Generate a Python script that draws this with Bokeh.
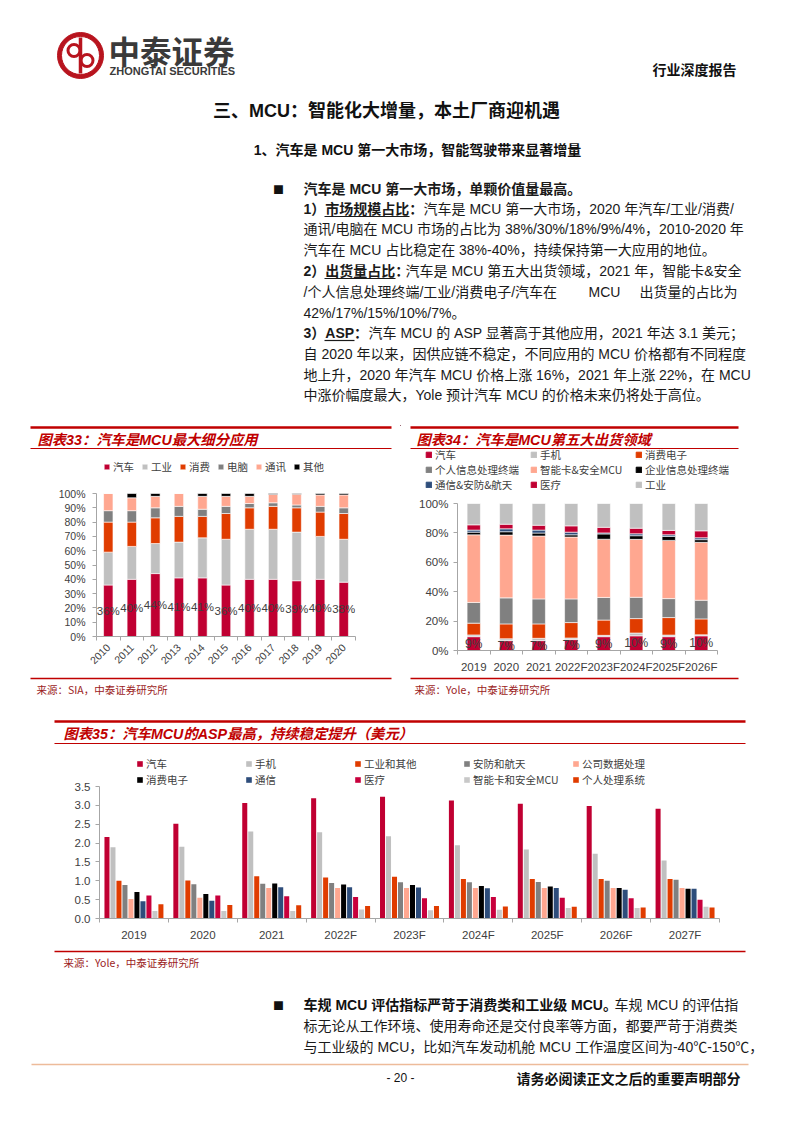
import math
from bokeh.plotting import figure
from bokeh.models import (Range1d, FixedTicker, SingleIntervalTicker, ColumnDataSource,
                          PrintfTickFormatter, NumeralTickFormatter, Legend, LegendItem)
from bokeh.layouts import column, row
from bokeh.core.properties import value
from bokeh.transform import dodge
from bokeh.embed import file_html
from bokeh.resources import INLINE

CJK = "Noto Sans CJK SC"
LAT = "Liberation Sans"
MIX = "Liberation Sans, Noto Sans CJK SC"
RED = "#C00000"
GRAY = "#A6A6A6"
TXT = "#404040"

# ---------------- data: 图表33 ----------------
years33 = ["2010", "2011", "2012", "2013", "2014", "2015", "2016", "2017", "2018", "2019", "2020"]
car33 = [36, 40, 44, 41, 41, 36, 40, 40, 39, 40, 38]
ind33 = [23, 23, 21, 25, 28, 32, 35, 35, 34, 30, 30]
con33 = [21, 17, 18, 18, 15, 18, 15, 16, 17, 17, 18]
pc33 = [8, 8, 7, 7, 5, 5, 3, 2.5, 2, 4, 4]
com33 = [12, 9, 8, 9, 9, 7, 5, 5.8, 7.5, 8, 9]
oth33 = [0, 3, 2, 0, 2, 2, 2, 0.7, 0.5, 1, 1]
names33 = ["汽车", "工业", "消费", "电脑", "通讯", "其他"]

# ---------------- data: 图表34 ----------------
years34 = ["2019", "2020", "2021", "2022F", "2023F", "2024F", "2025F", "2026F"]
car34 = [9.4, 6.7, 6.7, 7.4, 9.4, 10.0, 9.4, 10.0]
phone34 = [1.2, 1.3, 1.6, 1.1, 0.9, 1.9, 1.1, 0.7]
cons34 = [8.0, 10.1, 9.8, 10.5, 10.4, 9.8, 11.9, 10.8]
pc34 = [14.1, 17.7, 17.0, 16.1, 15.4, 14.5, 12.9, 12.7]
card34 = [46.0, 42.7, 42.8, 42.1, 39.6, 39.4, 39.6, 39.4]
ent34 = [1.8, 2.3, 2.0, 1.5, 3.6, 2.5, 2.7, 1.8]
comm34 = [1.4, 2.0, 2.0, 1.8, 0.7, 1.3, 1.1, 1.3]
med34 = [3.6, 3.1, 3.3, 4.3, 3.8, 3.8, 3.0, 4.7]
ind34 = [14.5, 14.1, 14.8, 15.2, 16.2, 16.8, 18.3, 18.6]
names34 = ["汽车", "手机", "消费电子", "个人信息处理终端", "智能卡&安全MCU",
           "企业信息处理终端", "通信&安防&航天", "医疗", "工业"]

# ---------------- data: 图表35 ----------------
years35 = ["2019", "2020", "2021", "2022F", "2023F", "2024F", "2025F", "2026F", "2027F"]
auto35 = [2.16, 2.51, 3.06, 3.19, 3.23, 3.13, 3.04, 2.98, 2.91]
phone35 = [1.89, 1.90, 2.31, 2.29, 2.18, 1.94, 1.83, 1.72, 1.54]
indus35 = [1.00, 1.01, 1.12, 1.09, 1.11, 1.05, 1.05, 1.05, 1.05]
secur35 = [0.89, 0.91, 0.92, 0.94, 0.96, 0.96, 0.97, 1.00, 1.03]
datap35 = [0.52, 0.55, 0.81, 0.81, 0.81, 0.81, 0.81, 0.81, 0.81]
consu35 = [0.70, 0.65, 0.93, 0.90, 0.89, 0.86, 0.85, 0.81, 0.79]
comms35 = [0.46, 0.47, 0.83, 0.83, 0.82, 0.80, 0.81, 0.76, 0.79]
medic35 = [0.61, 0.61, 0.59, 0.57, 0.54, 0.57, 0.55, 0.54, 0.50]
smart35 = [0.20, 0.20, 0.20, 0.24, 0.22, 0.23, 0.28, 0.28, 0.31]
perso35 = [0.38, 0.36, 0.35, 0.33, 0.33, 0.32, 0.31, 0.29, 0.29]
names35 = ["汽车", "手机", "工业和其他", "安防和航天", "公司数据处理",
           "消费电子", "通信", "医疗", "智能卡和安全MCU", "个人处理系统"]

C_CAR = "#C00032"
C_LG = "#C0C0C0"
C_OR = "#E03C00"
C_DG = "#808080"
C_SAL = "#FFA790"
C_BK = "#000000"
C_NV = "#2E4D7B"
cols34 = [C_CAR, C_LG, C_OR, C_DG, C_SAL, C_BK, C_NV, C_CAR, C_LG]
SRC_C = "#9B1C1C"
TITLE_FS = 14.3


# ---------------- helpers ----------------
def unalign(p):
    try:
        p.frame_align = False
    except Exception:
        pass


def canvas(w, h):
    p = figure(width=w, height=h, x_range=Range1d(0, w), y_range=Range1d(h, 0),
               x_axis_location=None, y_axis_location=None, min_border=0,
               title_location=None, toolbar_location=None, output_backend="svg")
    p.grid.visible = False
    p.outline_line_color = None
    unalign(p)
    return p


def put(p, x, y, s, size=14, color="#1a1a1a", bold=False, italic=False,
        align="left", font=MIX):
    style = "normal"
    if bold and italic:
        style = "bold italic"
    elif bold:
        style = "bold"
    elif italic:
        style = "italic"
    p.text(x=[x], y=[y], text=[s], text_font=value(font), text_font_size=f"{size}px",
           text_font_style=style, text_color=color, text_align=align,
           text_baseline="middle")


def hline(p, x0, x1, y, color=RED, w=1.0):
    p.segment(x0=[x0], y0=[y], x1=[x1], y1=[y], line_color=color, line_width=w)


def chart(w, h, n, yr, bl, br, bt, bb):
    p = figure(width=w, height=h, x_range=Range1d(0, n), y_range=Range1d(*yr),
               min_border_left=bl, min_border_right=br, min_border_top=bt,
               min_border_bottom=bb, title_location=None,
               toolbar_location=None, output_backend="svg")
    p.grid.visible = False
    p.outline_line_color = None
    unalign(p)
    return p


def style_axes(p, labels, yticker, yfmt, ybounds, fs, ystand, xstand=6, orient=None):
    n = len(labels)
    xs = [i + 0.5 for i in range(n)]
    ax = p.xaxis[0]
    ax.ticker = FixedTicker(ticks=xs, minor_ticks=list(range(n + 1)))
    ax.major_label_overrides = dict(zip(xs, labels))
    ax.major_tick_out = 0
    ax.major_tick_in = 0
    ax.minor_tick_out = 4
    ax.minor_tick_in = 0
    ax.minor_tick_line_color = GRAY
    ax.axis_line_color = GRAY
    ax.major_label_standoff = xstand
    ax.major_label_text_font = LAT
    ax.major_label_text_font_size = fs
    ax.major_label_text_color = TXT
    if orient is not None:
        ax.major_label_orientation = orient
    ay = p.yaxis[0]
    ay.ticker = yticker
    ay.formatter = yfmt
    ay.bounds = ybounds
    ay.major_tick_out = 4
    ay.major_tick_in = 0
    ay.major_tick_line_color = GRAY
    ay.minor_tick_line_color = None
    ay.axis_line_color = GRAY
    ay.major_label_standoff = ystand
    ay.major_label_text_font = LAT
    ay.major_label_text_font_size = fs
    ay.major_label_text_color = TXT
    return xs


def style_legend(leg, loc, ncols=None, label_w=None, spacing=6, fs="10.5px",
                 glyph=7, lh=12):
    leg.location = loc
    leg.orientation = "horizontal"
    if ncols:
        leg.ncols = ncols
    leg.padding = 0
    leg.margin = 0
    leg.spacing = spacing
    leg.glyph_width = glyph
    leg.glyph_height = glyph
    leg.label_height = lh
    leg.label_standoff = 3
    if label_w:
        leg.label_width = label_w
    leg.label_text_font = CJK
    leg.label_text_font_size = fs
    leg.label_text_color = TXT
    leg.background_fill_alpha = 0
    leg.border_line_color = None


# ================= top of page =================
top = canvas(794, 425)
top.annulus(x=[80], y=[55], inner_radius=19, outer_radius=23, color="#B8141E")
top.segment(x0=[80], y0=[37], x1=[80], y1=[73], line_color="#B8141E", line_width=3.5)
top.circle(x=[73.5], y=[50], radius=6, fill_color=None, line_color="#B8141E", line_width=3)
top.circle(x=[86.5], y=[60], radius=6, fill_color=None, line_color="#B8141E", line_width=3)
put(top, 108, 49, "中泰证券", 31.5, "#3a3a3a", bold=True, font=CJK)
put(top, 109, 70, "ZHONGTAI SECURITIES", 11, "#3a3a3a", bold=True, font=LAT)
put(top, 736, 68, "行业深度报告", 14, "#111111", bold=True, align="right", font=CJK)
put(top, 386, 110, "三、MCU：智能化大增量，本土厂商迎机遇", 18, "#111111", bold=True, align="center")
put(top, 417, 149, "1、汽车是 MCU 第一大市场，智能驾驶带来显著增量", 14, "#111111", bold=True, align="center")

put(top, 278, 188, "■", 11, "#111111", align="center", font=CJK)
# (x, text, bold, align)
body = [
    (188, [(303, "汽车是 MCU 第一大市场，单颗价值量最高。", True, "left")]),
    (208, [(303, "1）市场规模占比：", True, "left"),
           (423, "汽车是 MCU 第一大市场，2020 年汽车/工业/消费/", False, "left")]),
    (228, [(303, "通讯/电脑在 MCU 市场的占比为 38%/30%/18%/9%/4%，2010-2020 年", False, "left")]),
    (249, [(303, "汽车在 MCU 占比稳定在 38%-40%，持续保持第一大应用的地位。", False, "left")]),
    (270, [(303, "2）出货量占比：", True, "left"),
           (405, "汽车是 MCU 第五大出货领域，2021 年，智能卡&安全", False, "left")]),
    (291, [(303, "/个人信息处理终端/工业/消费电子/汽车在", False, "left"),
           (588, "MCU", False, "left"),
           (737, "出货量的占比为", False, "right")]),
    (312, [(303, "42%/17%/15%/10%/7%。", False, "left")]),
    (332, [(303, "3）ASP：", True, "left"),
           (368, "汽车 MCU 的 ASP 显著高于其他应用，2021 年达 3.1 美元；", False, "left")]),
    (353, [(303, "自 2020 年以来，因供应链不稳定，不同应用的 MCU 价格都有不同程度", False, "left")]),
    (374, [(303, "地上升，2020 年汽车 MCU 价格上涨 16%，2021 年上涨 22%，在 MCU", False, "left")]),
    (394, [(303, "中涨价幅度最大，Yole 预计汽车 MCU 的价格未来仍将处于高位。", False, "left")]),
]
for y, segs in body:
    for x, s, b, al in segs:
        put(top, x, y, s, 14, "#1a1a1a", bold=b, align=al)
for x0, x1, y in [(324, 409, 216), (324, 395, 278), (324, 354, 340)]:
    hline(top, x0, x1, y, "#1a1a1a", 1.2)

# ================= 图表33 =================
h33 = canvas(400, 27)
hline(h33, 30, 391, 2, RED, 2.5)
put(h33, 37, 14, "图表33：汽车是MCU最大细分应用", TITLE_FS, RED, bold=True, italic=True)
hline(h33, 30, 391, 23, RED, 1.2)

# frame extends up to the figure top so the legend sits inside it
c33 = chart(400, 223, len(years33), (0, 100 * 184 / 143), 96, 45, 0, 39)
xs33 = style_axes(c33, years33, SingleIntervalTicker(interval=10, num_minor_ticks=0),
                  PrintfTickFormatter(format="%d%%"), (0, 100), "10.5px", 7, 5, math.pi / 4)
src33 = ColumnDataSource(dict(x=xs33, car=car33, ind=ind33, con=con33, pc=pc33,
                              com=com33, oth=oth33,
                              ly=[v / 2 for v in car33], lbl=[f"{v}%" for v in car33]))
c33.vbar_stack(["car", "ind", "con", "pc", "com", "oth"], x="x", width=0.4,
               color=[C_CAR, C_LG, C_OR, C_DG, C_SAL, C_BK], line_color="white",
               line_width=0.6, source=src33, legend_label=names33)
c33.text(x="x", y="ly", text="lbl", source=src33, text_align="center",
         text_baseline="middle", text_font=value(LAT), text_font_size="11.5px",
         text_color=TXT)
style_legend(c33.legend[0], (7, 162), spacing=7, label_w=21)

f33 = canvas(400, 30)
hline(f33, 30, 391, 3, RED, 1.5)
put(f33, 36, 14, "来源：SIA，中泰证券研究所", 10.5, SRC_C, font=CJK)

# ================= 图表34 =================
# header (title bar + legend); legend keys are zero-height stand-ins in the series colours
h34 = canvas(394, 67)
hline(h34, 10, 338, 2, RED, 2.5)
put(h34, 16, 14, "图表34：汽车是MCU第五大出货领域", TITLE_FS, RED, bold=True, italic=True)
hline(h34, 10, 338, 23, RED, 1.2)
keys34 = [h34.vbar(x=[-50], top=[0], bottom=[0], width=1, color=c) for c in cols34]
leg34 = Legend(items=[LegendItem(label=nm, renderers=[r]) for nm, r in zip(names34, keys34)])
style_legend(leg34, (25, 0), ncols=3, label_w=95, spacing=0)
h34.add_layout(leg34)

c34 = chart(394, 183, len(years34), (0, 100), 57, 77, 11, 24)
xs34 = style_axes(c34, years34, SingleIntervalTicker(interval=20, num_minor_ticks=0),
                  PrintfTickFormatter(format="%d%%"), (0, 100), "11.5px", 5, 6)
src34 = ColumnDataSource(dict(x=xs34, car=car34, phone=phone34, cons=cons34, pc=pc34,
                              card=card34, ent=ent34, comm=comm34, med=med34, ind=ind34,
                              ly=[v / 2 for v in car34],
                              lbl=[f"{round(v)}%" for v in car34]))
c34.vbar_stack(["car", "phone", "cons", "pc", "card", "ent", "comm", "med", "ind"],
               x="x", width=0.41, color=cols34,
               line_color="white", line_width=0.6, source=src34)
c34.text(x="x", y="ly", text="lbl", source=src34, text_align="center",
         text_baseline="middle", text_font=value(LAT), text_font_size="12px",
         text_color=TXT)

f34 = canvas(394, 30)
hline(f34, 10, 338, 3, RED, 1.5)
put(f34, 14, 14, "来源：Yole，中泰证券研究所", 10.5, SRC_C, font=CJK)

# ================= 图表35 =================
h35 = canvas(794, 45)
hline(h35, 54, 745, 16, RED, 2.5)
put(h35, 63, 28, "图表35：汽车MCU的ASP最高，持续稳定提升（美元）", TITLE_FS, RED, bold=True, italic=True)
hline(h35, 54, 745, 38, RED, 1.2)

c35 = chart(794, 195, len(years35), (0, 3.5 * 168 / 132), 99, 75, 0, 27)
xs35 = style_axes(c35, years35, SingleIntervalTicker(interval=0.5, num_minor_ticks=0),
                  NumeralTickFormatter(format="0.0"), (0, 3.5), "11.5px", 5, 6)
keys35 = ["auto", "phone", "indus", "secur", "datap", "consu", "comms", "medic", "smart", "perso"]
vals35 = [auto35, phone35, indus35, secur35, datap35, consu35, comms35, medic35, smart35, perso35]
cols35 = [C_CAR, C_LG, C_OR, C_DG, C_SAL, C_BK, C_NV, "#C8003C", "#C8C8C8", C_OR]
src35 = ColumnDataSource(dict(x=xs35, **dict(zip(keys35, vals35))))
for i, (k, nm, c) in enumerate(zip(keys35, names35, cols35)):
    c35.vbar(x=dodge("x", (i - 4.5) * 0.087), top=k, width=0.073, source=src35,
             color=c, line_color=None, legend_label=nm)
style_legend(c35.legend[0], (37, 131), ncols=5, label_w=99, spacing=0, lh=16)

f35 = canvas(794, 30)
hline(f35, 54, 745, 6, RED, 1.5)
put(f35, 63, 17, "来源：Yole，中泰证券研究所", 10.5, SRC_C, font=CJK)

# ================= bottom of page =================
bot = canvas(794, 148)
put(bot, 278, 29, "■", 11, "#111111", align="center", font=CJK)
put(bot, 303, 29, "车规 MCU 评估指标严苛于消费类和工业级 MCU。", 14, "#111111", bold=True)
put(bot, 614, 29, "车规 MCU 的评估指", 14, "#1a1a1a")
put(bot, 303, 50, "标无论从工作环境、使用寿命还是交付良率等方面，都要严苛于消费类", 14, "#1a1a1a")
put(bot, 303, 71, "与工业级的 MCU，比如汽车发动机舱 MCU 工作温度区间为-40℃-150℃，", 14, "#1a1a1a")
hline(bot, 31, 748, 89, "#EDBB9A", 1.6)
put(bot, 400, 102, "- 20 -", 12, "#111111", align="center", font=LAT)
put(bot, 740, 102, "请务必阅读正文之后的重要声明部分", 14, "#111111", bold=True, align="right", font=CJK)

r = row(column(h33, c33, f33, spacing=0), column(h34, c34, f34, spacing=0), spacing=0)
page = column(top, r, h35, c35, f35, bot, spacing=0)

open("out.html", "w").write(file_html(page, INLINE))
